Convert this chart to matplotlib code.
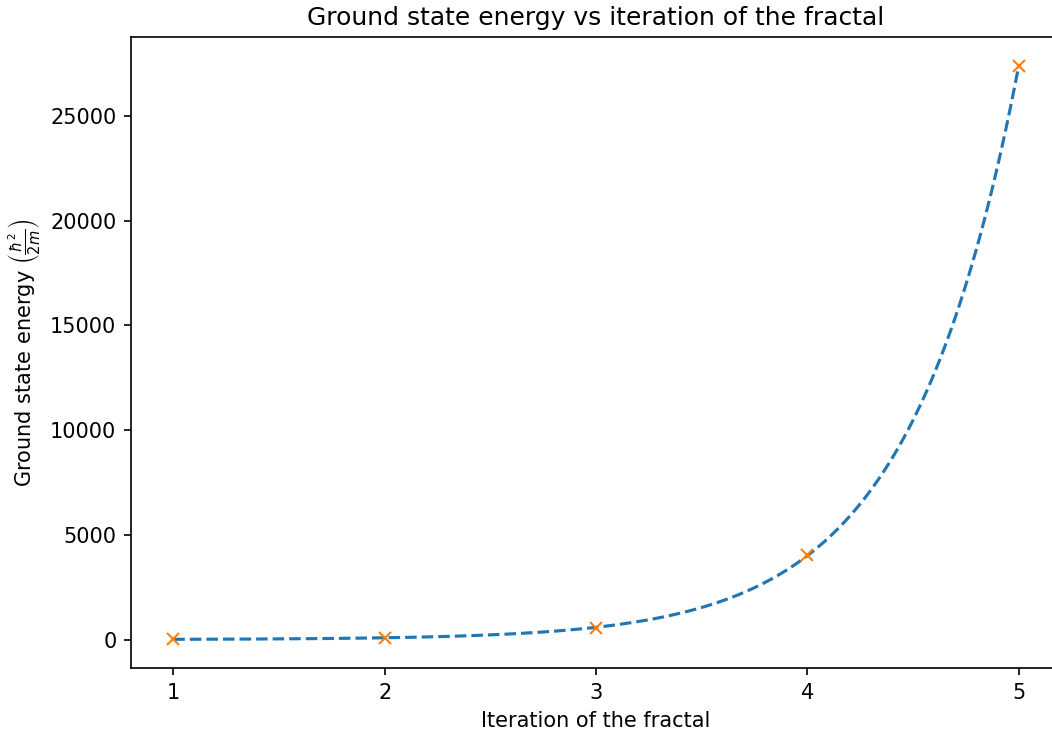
import numpy as np
import matplotlib
matplotlib.use("Agg")
import matplotlib.pyplot as plt

# ground state energy per fractal iteration
iterations = np.array([1, 2, 3, 4, 5])
energies = np.array([20, 95, 540, 4030, 27400])

# exponential fit through the points (weighted so the large values dominate)
b, log_a = np.polyfit(iterations, np.log(energies), 1, w=np.sqrt(energies))
x_fit = np.linspace(iterations[0], iterations[-1], 200)
y_fit = np.exp(log_a) * np.exp(b * x_fit)

W, H, DPI = 1052, 734, 150
fig = plt.figure(figsize=(W / DPI, H / DPI), dpi=DPI)
ax = fig.add_axes([131 / W, 1 - 668 / H, (1061 - 131) / W, (668 - 37) / H])

ax.plot(x_fit, y_fit, '--')
ax.plot(iterations, energies, 'x')

ax.set_xlim(0.8, 5.2)
ax.set_xticks(iterations)
ax.set_title('Ground state energy vs iteration of the fractal')
ax.set_xlabel('Iteration of the fractal')
ax.set_ylabel(r'Ground state energy $\left(\frac{\hbar^2}{2m}\right)$')

fig.savefig('out.png', dpi=DPI)
